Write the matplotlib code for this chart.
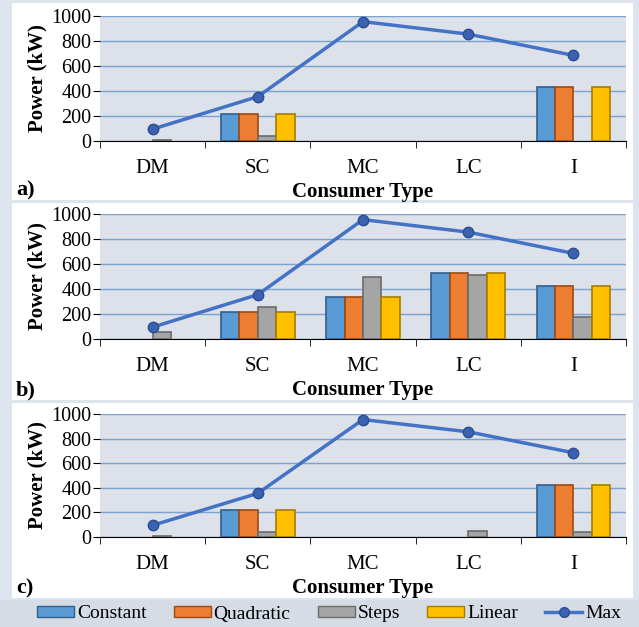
import numpy as np
import matplotlib
matplotlib.use("Agg")
import matplotlib.pyplot as plt
from matplotlib.patches import Rectangle
from matplotlib.lines import Line2D

plt.rcParams['font.family'] = ['Liberation Serif', 'DejaVu Serif']

categories = ["DM", "SC", "MC", "LC", "I"]
series_names = ["Constant", "Quadratic", "Steps", "Linear"]
max_power = [95, 355, 955, 855, 685]

# panel a)
a_constant = [0, 215, 0, 0, 428]
a_quadratic = [0, 215, 0, 0, 428]
a_steps = [10, 38, 0, 0, 0]
a_linear = [0, 215, 0, 0, 428]
# panel b)
b_constant = [0, 218, 335, 530, 428]
b_quadratic = [0, 218, 335, 530, 428]
b_steps = [55, 255, 500, 515, 175]
b_linear = [0, 218, 335, 530, 428]
# panel c)
c_constant = [0, 218, 0, 0, 425]
c_quadratic = [0, 218, 0, 0, 425]
c_steps = [10, 40, 0, 50, 40]
c_linear = [0, 218, 0, 0, 425]

panels = [
    ("a)", [a_constant, a_quadratic, a_steps, a_linear]),
    ("b)", [b_constant, b_quadratic, b_steps, b_linear]),
    ("c)", [c_constant, c_quadratic, c_steps, c_linear]),
]

colors = ["#5B9BD5", "#ED7D31", "#A5A5A5", "#FFC000"]
edges = ["#2F5F8F", "#9C4A15", "#6B6B6B", "#A67C00"]
line_color = "#4472C4"

W, H = 639, 627
fig = plt.figure(figsize=(W / 100, H / 100), dpi=100)
fig.patch.set_facecolor("#DDE4EE")

# white panel boxes (pixel coords: left, top, right, bottom)
boxes = [(12, 3, 633, 200), (12, 203, 633, 400), (12, 403, 633, 598)]
for l, t, r, b in boxes:
    fig.patches.append(Rectangle((l / W, 1 - b / H), (r - l) / W, (b - t) / H,
                                 transform=fig.transFigure, facecolor="white",
                                 edgecolor="none", zorder=-5))

axes_px = [(16, 141), (214, 339), (414, 537)]
x = np.arange(len(categories))
bw = 0.175
offsets = (np.arange(4) - 1.5) * bw

for (label, series), (top, bot), box in zip(panels, axes_px, boxes):
    ax = fig.add_axes([100 / W, 1 - bot / H, 526 / W, (bot - top) / H])
    ax.set_facecolor("#DCE1EA")
    for i, vals in enumerate(series):
        vals = np.array(vals, dtype=float)
        m = vals > 0
        ax.bar(x[m] + offsets[i], vals[m], width=bw, color=colors[i],
               edgecolor=edges[i], linewidth=1.2, zorder=3)
    ax.plot(x, max_power, color=line_color, lw=2.5, marker="o", ms=7.5,
            mfc="#3A62B0", mec="#2A4E95", zorder=4)
    ax.set_xlim(-0.5, len(categories) - 0.5)
    ax.set_ylim(0, 1000)
    ax.set_yticks(np.arange(0, 1001, 200))
    ax.yaxis.grid(True, color="#7BA3CF", lw=1)
    ax.set_axisbelow(True)
    for s in ["top", "right", "left"]:
        ax.spines[s].set_visible(False)
    ax.spines["bottom"].set_color("black")
    ax.set_xticks(x)
    ax.set_xticklabels(categories, fontsize=15)
    ax.set_xticks(np.arange(-0.5, len(categories)), minor=True)
    ax.tick_params(axis="x", which="major", length=0, pad=13)
    ax.tick_params(axis="x", which="minor", length=5, direction="out")
    ax.tick_params(axis="y", labelsize=14.5, length=5, pad=1)
    ax.set_ylabel("Power (kW)", fontsize=15, fontweight="bold", labelpad=3)
    ax.set_xlabel("Consumer Type", fontsize=15, fontweight="bold", labelpad=3)
    fig.text(16 / W, 1 - (box[3] - 10) / H, label, fontsize=16,
             fontweight="bold", va="center", ha="left")

# legend band
fig.patches.append(Rectangle((0, 0), 1, 27 / H, transform=fig.transFigure,
                             facecolor="#D6DCE5", edgecolor="none", zorder=-5))
handles = [Rectangle((0, 0), 1, 1, facecolor=c, edgecolor=e)
           for c, e in zip(colors, edges)]
handles.append(Line2D([], [], color=line_color, lw=2.5, marker="o", ms=7,
                      mfc="#3A62B0", mec="#2A4E95"))
fig.legend(handles, series_names + ["Max"], loc="center",
           bbox_to_anchor=(0.515, 13 / H), ncol=5, frameon=False, fontsize=14,
           handlelength=1.9, handleheight=0.45, handletextpad=0.15,
           columnspacing=1.4, borderpad=0, borderaxespad=0)

fig.savefig("out.png", dpi=100, facecolor=fig.get_facecolor())
